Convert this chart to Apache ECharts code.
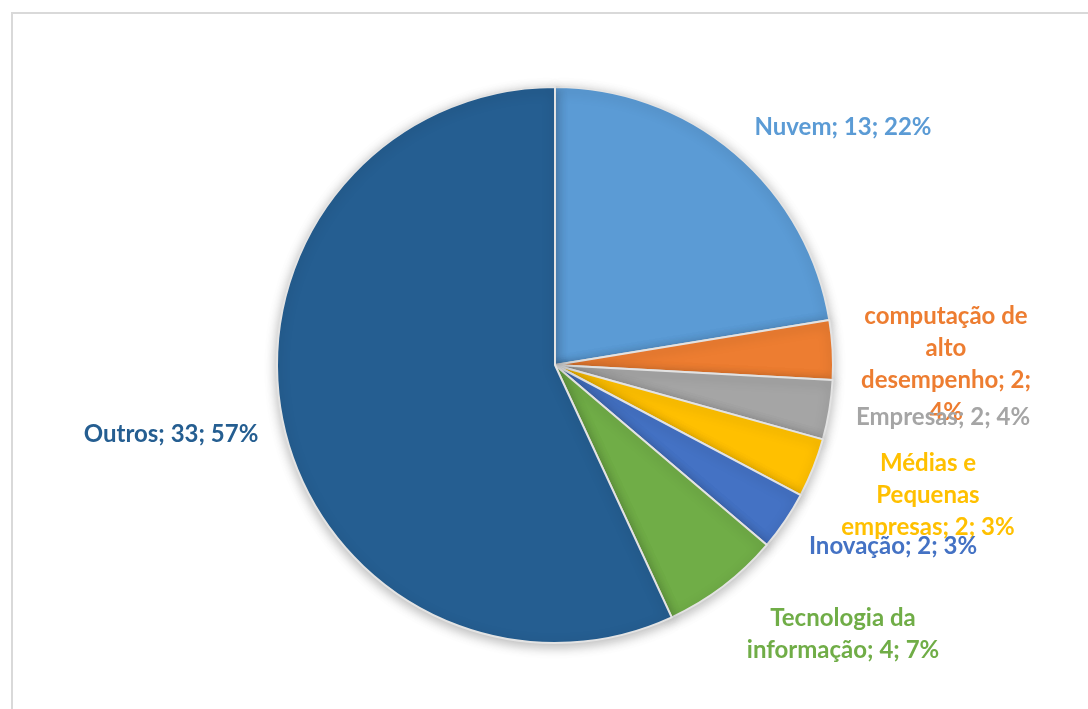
<!DOCTYPE html>
<html>
<head>
<meta charset="utf-8">
<script src="https://cdn.jsdelivr.net/npm/echarts@6/dist/echarts.min.js"></script>
<style>
html,body{margin:0;padding:0;background:#fff;}
#chart{width:1088px;height:709px;}
</style>
</head>
<body>
<div id="chart"></div>
<script>
// ---- data ----
const categories = ['Nuvem', 'computação de alto desempenho', 'Empresas', 'Médias e Pequenas empresas', 'Inovação', 'Tecnologia da informação', 'Outros'];
const values = [13, 2, 2, 2, 2, 4, 33];
const percentLabels = ['22%', '4%', '4%', '3%', '3%', '7%', '57%'];
const colors = ['#5B9BD5', '#ED7D31', '#A5A5A5', '#FFC000', '#4472C4', '#70AD47', '#255E91'];

// ---- label layout (positions, not data) ----
const labelPos = [
  {x: 843, y: 127, w: 400},
  {x: 946, y: 364, w: 178},
  {x: 943, y: 417, w: 400},
  {x: 928, y: 495, w: 190},
  {x: 893, y: 546, w: 400},
  {x: 843, y: 634, w: 220},
  {x: 171, y: 434, w: 400}
];

const FONT = 'bold 24px Lato';
const cv = document.createElement('canvas').getContext('2d');
cv.font = FONT;
function wrap(text, maxW) {
  const words = text.split(' ');
  const lines = [];
  let cur = '';
  words.forEach(w => {
    const t = cur ? cur + ' ' + w : w;
    if (cur && cv.measureText(t).width > maxW) { lines.push(cur); cur = w; }
    else cur = t;
  });
  if (cur) lines.push(cur);
  return lines.join('\n');
}

const chart = echarts.init(document.getElementById('chart'), null, {renderer: 'canvas'});
const data = categories.map((c, i) => ({
  name: c,
  value: values[i],
  itemStyle: {color: colors[i]},
  label: {color: colors[i]}
}));

chart.setOption({
  animation: false,
  backgroundColor: '#ffffff',
  graphic: [{
    type: 'rect',
    shape: {x: 12, y: 13, width: 1100, height: 720},
    style: {fill: 'none', stroke: '#D9D9D9', lineWidth: 2},
    silent: true
  }],
  series: [{
    type: 'pie',
    center: [555, 365],
    radius: 278,
    startAngle: 90,
    clockwise: true,
    data: data,
    itemStyle: {
      borderColor: '#E3E3E3',
      borderWidth: 2,
      shadowBlur: 12,
      shadowColor: 'rgba(0,0,0,0.28)',
      shadowOffsetY: 3
    },
    label: {
      show: true,
      position: 'outside',
      fontFamily: 'Lato',
      fontWeight: 'bold',
      fontSize: 24,
      lineHeight: 32,
      align: 'center',
      formatter: p => wrap(p.name + '; ' + p.value + '; ' + percentLabels[p.dataIndex], labelPos[p.dataIndex].w)
    },
    labelLine: {show: false},
    labelLayout: p => ({
      x: labelPos[p.dataIndex].x,
      y: labelPos[p.dataIndex].y,
      align: 'center',
      verticalAlign: 'middle',
      hideOverlap: false
    })
  }]
});
</script>
</body>
</html>
